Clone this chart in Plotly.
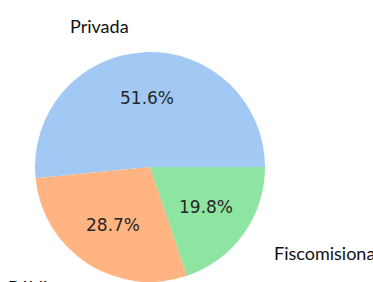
import math
import plotly.graph_objects as go

labels = ["Privada", "Pública", "Fiscomisional"]
values = [51.6, 28.7, 19.8]
colors = ["#a1c9f4", "#ffb482", "#8de5a1"]

W, H = 373, 282
# pie placement (pixels)
cx_px, cy_px, r_px = 150, 167, 115

total = sum(values)
first_deg = 360 * values[0] / total

fig = go.Figure(go.Pie(
    labels=labels, values=values, sort=False,
    direction="counterclockwise", rotation=270 - (first_deg - 180),
    marker=dict(colors=colors, line=dict(width=0)),
    textinfo="none", hoverinfo="skip", showlegend=False,
    domain=dict(x=[(cx_px - r_px) / W, (cx_px + r_px) / W],
                y=[1 - (cy_px + r_px) / H, 1 - (cy_px - r_px) / H]),
))

ann = []
start = 0.0
for v in values:
    ang = math.radians(start + 360 * v / total / 2)
    start += 360 * v / total
    x = cx_px + 0.6 * r_px * math.cos(ang)
    y = cy_px - 0.6 * r_px * math.sin(ang)
    ann.append(dict(x=x / W, y=1 - y / H, xref="paper", yref="paper",
                    text=f"{v:.1f}%", showarrow=False,
                    font=dict(family="DejaVu Sans", size=17, color="#262626"),
                    xanchor="center", yanchor="middle"))

# outside category labels
label_pos = [(99.5, 26, "center"), (6, 287, "left"), (272, 253, "left")]
for lab, (x, y, xa) in zip(labels, label_pos):
    ann.append(dict(x=x / W, y=1 - y / H, xref="paper", yref="paper",
                    text=lab, showarrow=False,
                    font=dict(family="Lato", size=18, color="#111111"),
                    xanchor=xa, yanchor="middle"))

fig.update_layout(width=W, height=H, margin=dict(l=0, r=0, t=0, b=0),
                  paper_bgcolor="white", plot_bgcolor="white",
                  annotations=ann)
fig.write_html("out.html")
